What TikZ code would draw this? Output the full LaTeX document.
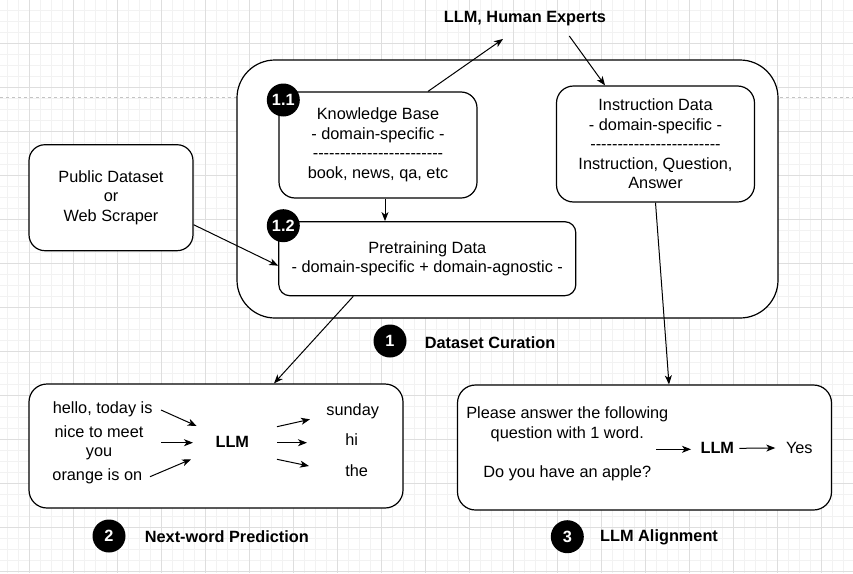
\documentclass[tikz,border=0pt]{standalone}
\usepackage{fontspec}
\setmainfont{Liberation Sans}
\usepackage{tikz}
\usetikzlibrary{arrows.meta,positioning}
\definecolor{gridmajor}{RGB}{222,222,222}
\definecolor{gridminor}{RGB}{242,242,242}
\definecolor{pagebreak}{RGB}{195,195,195}
\tikzstyle{arrow} = [line width=1pt,-{Stealth[length=9pt,width=7pt,inset=2.5pt]}]
\tikzstyle{txt} = [font=\fontsize{16.3}{19.5}\selectfont, align=center, inner sep=2pt]
\tikzstyle{boldtxt} = [txt, font=\fontsize{16.3}{19.5}\selectfont\bfseries]
\tikzstyle{box} = [txt, rectangle, draw, line width=1.2pt, fill=white]
\tikzstyle{numc} = [circle, fill=black, minimum size=33pt, inner sep=0pt, text=white, font=\fontsize{16.3}{19.5}\selectfont\bfseries]
\newcommand{\dashes}{\foreach \d in {1,...,24}{-\kern0pt}}

\begin{document}
\begin{tikzpicture}[x=1pt, y=-1pt]
\useasboundingbox (0,0) rectangle (853,573);

% Grid in the background
\foreach \gx in {7.3,18.3,...,853} \draw[gridminor, line width=0.8pt] (\gx,0) -- (\gx,573);
\foreach \gy in {10.3,21.3,...,573} \draw[gridminor, line width=0.8pt] (0,\gy) -- (853,\gy);
\foreach \gx in {29.3,73.3,...,853} \draw[gridmajor, line width=0.8pt] (\gx,0) -- (\gx,573);
\foreach \gy in {43.3,87.3,...,573} \draw[gridmajor, line width=0.8pt] (0,\gy) -- (853,\gy);
\draw[pagebreak, dash pattern=on 3pt off 3pt, line width=1pt] (0,97) -- (853,97);

% Dataset curation
\node[box, minimum width=541pt, minimum height=258pt, rounded corners=38pt] (curation) at (507.5,189) {};
\node[box, minimum width=198pt, minimum height=106pt, rounded corners=16pt] (kb) at (378,145) {Knowledge Base\\- domain-specific -\\\dashes\\book, news, qa, etc};
\node[box, minimum width=297pt, minimum height=74pt, rounded corners=11pt] (pre) at (427.3,258.7) {Pretraining Data\\- domain-specific + domain-agnostic -};
\node[box, minimum width=198pt, minimum height=116pt, rounded corners=17pt] (instr) at (655.5,144) {Instruction Data\\- domain-specific -\\\dashes\\Instruction, Question,\\Answer};
\node[box, minimum width=164pt, minimum height=106pt, rounded corners=16pt] (pub) at (111,197.7) {Public Dataset\\or\\Web Scraper};
\node[boldtxt] (experts) at (525,19) {LLM, Human Experts};

\node[numc] (c11) at (283.3,100) {1.1};
\node[numc] (c12) at (283.3,225.7) {1.2};

% Next-word prediction and alignment
\node[box, minimum width=374pt, minimum height=124pt, rounded corners=18pt] (nwp) at (216,446) {};
\node[box, minimum width=374pt, minimum height=125pt, rounded corners=18pt] (align) at (644.5,447.5) {};

\node[txt] (hello) at (102.7,409.3) {hello, today is};
\node[txt] (nice) at (99,443) {nice to meet\\you};
\node[txt] (orange) at (97.3,476) {orange is on};
\node[boldtxt] (llmA) at (232.3,442.3) {LLM};
\node[txt] (sunday) at (352.7,411.7) {sunday};
\node[txt] (hi) at (351.7,439.3) {hi};
\node[txt] (the) at (356.7,471) {the};

\node[txt] (prompt) at (567.3,444) {Please answer the following\\question with 1 word.\\[19.5pt]Do you have an apple?};
\node[boldtxt] (llmB) at (717.3,448.3) {LLM};
\node[txt] (yes) at (799.3,447.7) {Yes};

% Step labels
\node[numc] (c1) at (390,341) {1};
\node[boldtxt, right=16pt of c1, yshift=-1.5pt] (curlbl) {Dataset Curation};
\node[numc] (c2) at (109,536) {2};
\node[boldtxt, right=17pt of c2, yshift=-1pt] (nwplbl) {Next-word Prediction};
\node[numc] (c3) at (567.3,536.7) {3};
\node[boldtxt, right=14pt of c3, yshift=-1pt] (alignlbl) {LLM Alignment};

% Connectors
\draw[arrow] ([xshift=50pt]kb.north) -- ([shift={(-22,20)}]experts.center);
\draw[arrow] ([shift={(44.3,17)}]experts.center) -- ([xshift=-50.5pt]instr.north);
\draw[arrow] ([xshift=7pt]kb.south) -- ([xshift=7pt]kb.south |- pre.north);
\draw[arrow] ([yshift=-27pt]pub.east) -- ([yshift=-7pt]pre.west);
\draw[arrow] ([xshift=-74pt]pre.south) -- ([xshift=58pt]nwp.north);
\draw[arrow] (instr.south) -- ([xshift=24.5pt]align.north);

\draw[arrow] ([shift={(58.3,0.7)}]hello.center) -- ([shift={(-35.6,-16.3)}]llmA.center);
\draw[arrow] ([shift={(62,-0.3)}]nice.center) -- ([shift={(-39.3,0.4)}]llmA.center);
\draw[arrow] ([shift={(52.7,0.7)}]orange.center) -- ([shift={(-41.3,17)}]llmA.center);
\draw[arrow] ([shift={(44.7,-15.6)}]llmA.center) -- ([shift={(-42.7,7.6)}]sunday.center);
\draw[arrow] ([shift={(44.7,0.4)}]llmA.center) -- ([shift={(-44.7,3.4)}]hi.center);
\draw[arrow] ([shift={(44.7,17)}]llmA.center) -- ([shift={(-47.7,-5)}]the.center);

\draw[arrow] ([shift={(88.7,5.3)}]prompt.center) -- ([shift={(-26.3,1)}]llmB.center);
\draw[arrow] ([shift={(22,0)}]llmB.center) -- ([shift={(-24,0.3)}]yes.center);
\end{tikzpicture}
\end{document}
